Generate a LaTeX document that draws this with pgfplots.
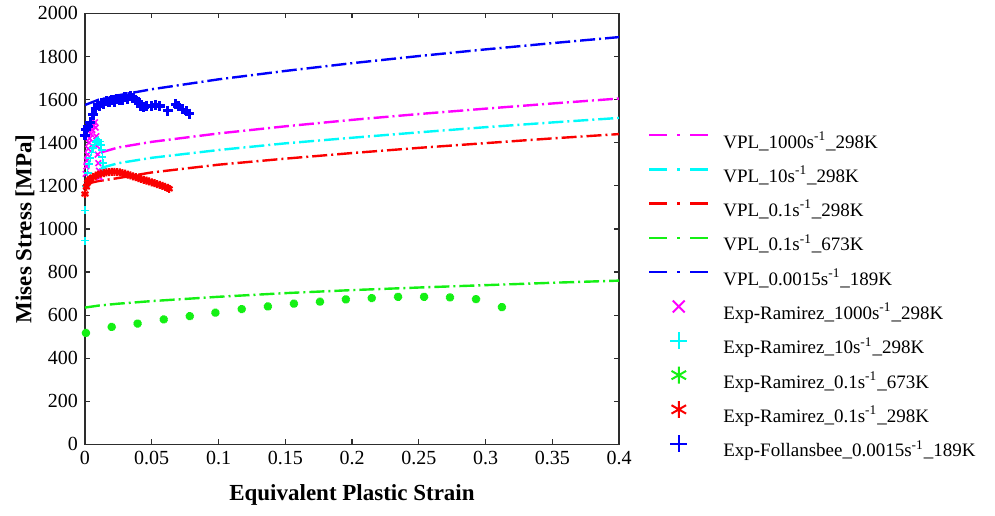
\documentclass[border=0pt]{standalone}
\usepackage{fontspec}
\setmainfont{Liberation Serif}
\usepackage{pgfplots}
\pgfplotsset{compat=1.18}
\usetikzlibrary{calc}
\definecolor{cmag}{RGB}{255,0,255}
\definecolor{ccya}{RGB}{0,250,250}
\definecolor{cred}{RGB}{250,0,0}
\definecolor{cgre}{RGB}{20,240,20}
\definecolor{cblu}{RGB}{0,0,250}
\definecolor{axgray}{RGB}{45,45,45}
\begin{document}
\begin{tikzpicture}
\begin{axis}[name=ax,
  width=267pt, height=215.5pt, scale only axis,
  xmin=0, xmax=0.4, ymin=0, ymax=2000,
  xtick={0,0.05,0.1,0.15,0.2,0.25,0.3,0.35,0.4},
  xticklabels={0,0.05,0.1,0.15,0.2,0.25,0.3,0.35,0.4},
  ytick={0,200,400,600,800,1000,1200,1400,1600,1800,2000},
  yticklabels={0,200,400,600,800,1000,1200,1400,1600,1800,2000},
  tick label style={font=\fontsize{10}{12}\selectfont},
  tick align=inside, major tick length=2.5pt,
  axis line style={draw=axgray, line width=0.6pt},
  tick style={draw=axgray, line width=0.6pt},
  xlabel={Equivalent Plastic Strain},
  ylabel={Mises Stress [MPa]},
  every axis x label/.style={at={(axis description cs:0.5,0)}, anchor=center, yshift=-25.5pt,
    font=\fontsize{11.5}{13}\selectfont\bfseries},
  every axis y label/.style={at={(axis description cs:0,0.5)}, anchor=center, rotate=90, yshift=30pt,
    font=\fontsize{11.5}{13}\selectfont\bfseries},
  legend cell align=left,
  legend style={at={(1.056,0.735)}, anchor=north west, draw=none, fill=none, inner sep=0pt,
    font=\fontsize{9.5}{11}\selectfont, row sep=4.15pt, column sep=7.5pt,
    nodes={inner sep=0pt, outer sep=0pt, text height=9pt, text depth=3pt}},
  vpl/.style={line width=1.2pt, dash pattern=on 7.5pt off 2pt on 1pt off 2pt,
    legend image code/.code={\path[draw=none, fill=none] (0pt,0pt) rectangle (29.5pt,7pt);
      \pgfinterruptboundingbox
      \draw[##1, dash pattern=on 9pt off 5pt on 1.5pt off 5pt on 9pt] (0pt,3.5pt) -- (29.5pt,3.5pt);
      \endpgfinterruptboundingbox}},
  expm/.style={only marks,
    legend image code/.code={\path[draw=none, fill=none] (0pt,0pt) rectangle (29.5pt,7pt);
      \pgfinterruptboundingbox
      \draw[##1, mark size=4.2pt, line width=1pt] plot coordinates {(14.75pt,3.5pt)};
      \endpgfinterruptboundingbox}},
]
% VPL model curves
\addplot[vpl, cmag] coordinates {(0.012,1355)(0.025,1378)(0.05,1404)(0.1,1443)(0.15,1476)(0.2,1506)(0.25,1533)(0.3,1558)(0.35,1582)(0.4,1605)};
\addlegendentry{VPL\_1000s\textsuperscript{-1}\_298K}
\addplot[vpl, ccya] coordinates {(0.012,1283)(0.025,1305)(0.05,1330)(0.1,1366)(0.15,1397)(0.2,1423)(0.25,1448)(0.3,1472)(0.35,1494)(0.4,1515)};
\addlegendentry{VPL\_10s\textsuperscript{-1}\_298K}
\addplot[vpl, cred] coordinates {(0.003,1212)(0.01,1222)(0.025,1236)(0.05,1262)(0.1,1298)(0.15,1326)(0.2,1352)(0.25,1376)(0.3,1398)(0.35,1420)(0.4,1440)};
\addlegendentry{VPL\_0.1s\textsuperscript{-1}\_298K}
\addplot[vpl, cgre] coordinates {(0,635)(0.01,644)(0.025,653)(0.05,665)(0.1,685)(0.15,702)(0.2,716)(0.25,728)(0.3,739)(0.35,750)(0.4,760)};
\addlegendentry{VPL\_0.1s\textsuperscript{-1}\_673K}
\addplot[vpl, cblu] coordinates {(0,1575)(0.01,1599)(0.025,1620)(0.05,1648)(0.1,1694)(0.15,1733)(0.2,1769)(0.25,1802)(0.3,1833)(0.35,1862)(0.4,1890)};
\addlegendentry{VPL\_0.0015s\textsuperscript{-1}\_189K}
% Experimental data
\addplot[expm, cmag, mark=x, mark size=2pt, line width=0.8pt] coordinates {
(0.0005,1255)(0.001,1290)(0.0015,1318)(0.002,1345)(0.0025,1372)(0.003,1400)(0.0035,1420)
(0.0045,1440)(0.0055,1460)(0.0065,1480)(0.0075,1495)(0.008,1470)(0.0085,1430)(0.009,1385)
(0.0095,1345)(0.01,1305)(0.0105,1270)(0.011,1240)};
\addlegendentry{Exp-Ramirez\_1000s\textsuperscript{-1}\_298K}
\addplot[expm, ccya, mark=+, mark size=2pt, line width=0.8pt] coordinates {
(0,946)(0,1086)(0.001,1200)(0.002,1260)(0.003,1300)(0.004,1330)(0.005,1355)(0.006,1375)
(0.007,1392)(0.008,1403)(0.009,1410)(0.010,1412)(0.011,1405)(0.012,1390)(0.0125,1365)
(0.013,1335)(0.0133,1305)(0.0135,1280)};
\addlegendentry{Exp-Ramirez\_10s\textsuperscript{-1}\_298K}
\addplot[expm, cgre, mark=asterisk, mark size=2pt, line width=1.7pt] coordinates {
(0.0007,517)(0.020,545)(0.0394,561)(0.059,580)(0.0785,595)(0.0977,611)(0.1174,628)
(0.137,640)(0.1565,653)(0.176,662)(0.1954,673)(0.2148,679)(0.2345,685)(0.254,685)
(0.2734,682)(0.2929,674)(0.3123,637)};
\addlegendentry{Exp-Ramirez\_0.1s\textsuperscript{-1}\_673K}
\addplot[expm, cred, mark=asterisk, mark size=2pt, line width=1.1pt] coordinates {
(0,1162)(0.001,1195)(0.002,1215)(0.003,1225)(0.004,1232)(0.006,1240)(0.008,1247)(0.010,1252)
(0.012,1256)(0.014,1259)(0.016,1262)(0.018,1264)(0.020,1265)(0.022,1265)(0.024,1264)
(0.026,1262)(0.028,1259)(0.030,1256)(0.032,1252)(0.034,1248)(0.036,1244)(0.038,1240)
(0.040,1236)(0.042,1232)(0.044,1228)(0.046,1224)(0.048,1220)(0.050,1216)(0.052,1212)
(0.054,1208)(0.056,1204)(0.058,1200)(0.060,1195)(0.062,1190)(0.063,1186)};
\addlegendentry{Exp-Ramirez\_0.1s\textsuperscript{-1}\_298K}
\addplot[expm, cblu, mark=+, mark size=2.5pt, line width=1.6pt] coordinates {
(0,1435)(0.001,1460)(0.002,1475)(0.004,1495)(0.006,1530)(0.008,1560)(0.0095,1575)(0.011,1570)
(0.0125,1585)(0.014,1580)(0.016,1592)(0.018,1588)(0.02,1598)(0.022,1590)(0.024,1605)
(0.026,1600)(0.028,1596)(0.030,1610)(0.032,1605)(0.034,1615)(0.036,1608)(0.038,1600)
(0.040,1590)(0.042,1570)(0.044,1565)(0.046,1572)(0.050,1568)(0.053,1575)(0.056,1570)
(0.062,1548)(0.068,1578)(0.070,1568)(0.073,1555)(0.076,1545)(0.078,1535)};
\addlegendentry{Exp-Follansbee\_0.0015s\textsuperscript{-1}\_189K}
\end{axis}
\path ($(ax.south west)+(-42.5pt,-35.5pt)$) rectangle ($(ax.north east)+(188pt,5.5pt)$);
\end{tikzpicture}
\end{document}
